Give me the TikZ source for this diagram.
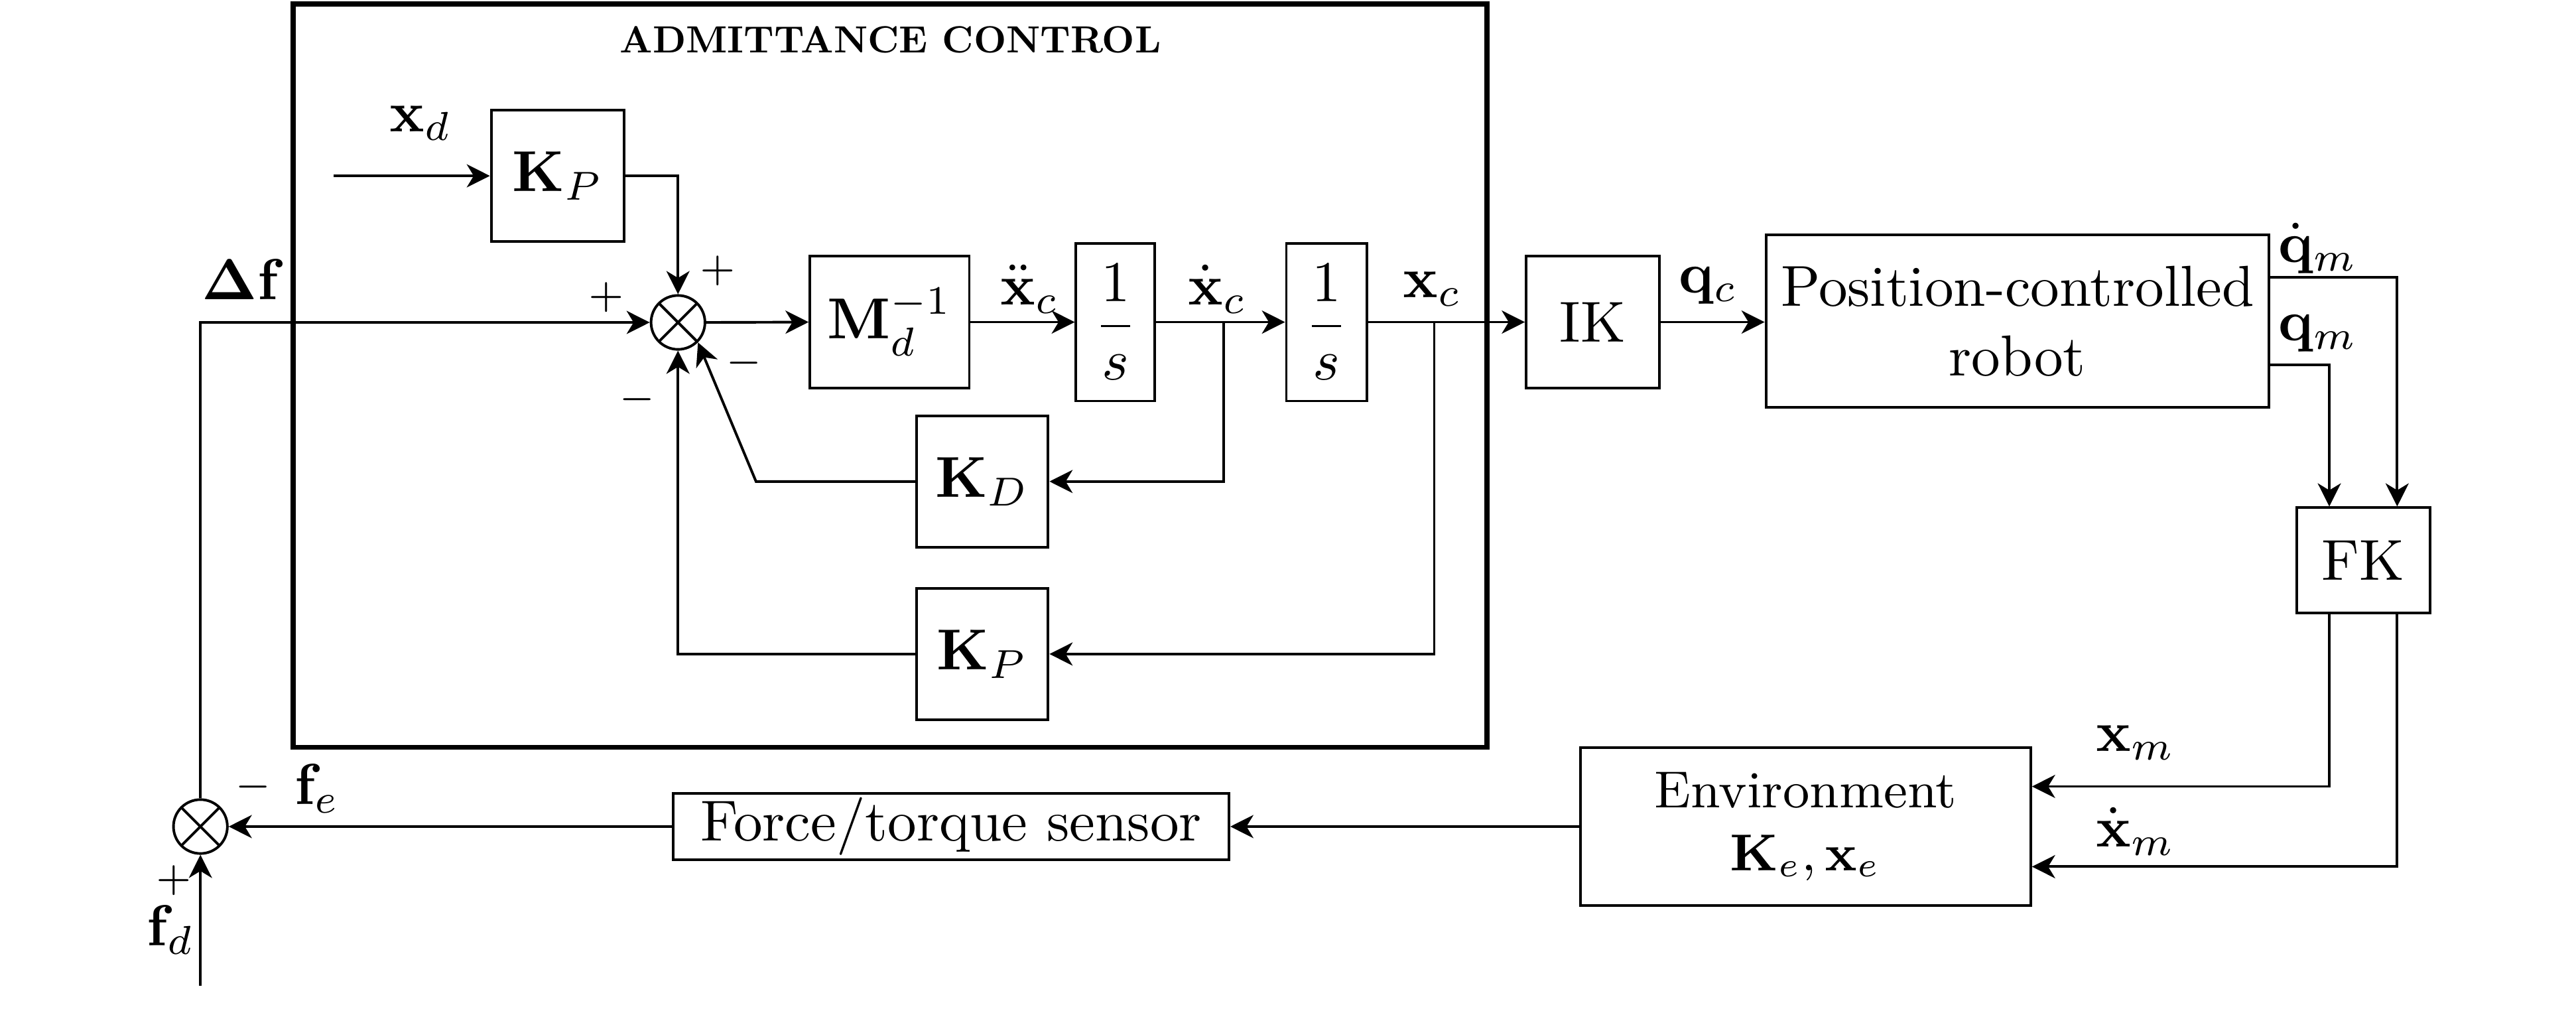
\documentclass[tikz,border=0pt]{standalone}
\usepackage{amsmath}
\usetikzlibrary{arrows.meta,calc}

\begin{document}
\begin{tikzpicture}[x=0.01cm,y=-0.01cm,>={Stealth[length=4pt,width=4pt,inset=1.2pt]},line width=0.45pt,
                    blk/.style 2 args={draw,inner sep=0pt,minimum width=#1,minimum height=#2},
                    sum/.style={circle,draw,inner sep=0pt,minimum size=0.328cm,
                      path picture={\draw (path picture bounding box.north west) -- (path picture bounding box.south east)
                                          (path picture bounding box.north east) -- (path picture bounding box.south west);}},
                    sgn/.style={font=\scriptsize}]
  \useasboundingbox (0,0) rectangle (1568,614);
  % admittance control frame
  \node[draw,line width=0.9pt,minimum width=7.265cm,minimum height=4.521cm] (adm) at (541.75,228.55) {};
  \node (title) at (542,24) {\scalebox{0.655}{\bfseries ADMITTANCE CONTROL}};
  % blocks
  \node[blk={0.81cm}{0.80cm}] (KPa) at (339.5,107) {$\mathbf{K}_P$};
  \node[sum] (s1) at (412.7,196.2) {};
  \node[blk={0.97cm}{0.80cm}] (Minv) at (541.5,196) {$\mathbf{M}_d^{-1}$};
  \node[blk={0.48cm}{0.96cm}] (int1) at (679,196) {$\dfrac{1}{s}$};
  \node[blk={0.49cm}{0.96cm}] (int2) at (807.5,196) {$\dfrac{1}{s}$};
  \node[blk={0.80cm}{0.80cm}] (KD) at (598,293) {$\mathbf{K}_D$};
  \node[blk={0.80cm}{0.80cm}] (KPb) at (598,398) {$\mathbf{K}_P$};
  \node[blk={0.81cm}{0.80cm}] (IK) at (969.5,196) {IK};
  \node[blk={3.06cm}{1.05cm},align=center] (robot) at (1228,195.5) {Position-controlled\\robot};
  \node[blk={0.81cm}{0.64cm}] (FK) at (1438.5,341) {FK};
  \node[blk={2.74cm}{0.96cm},align=center,font=\small] (env) at (1099,503) {Environment\\$\mathbf{K}_e,\mathbf{x}_e$};
  \node[blk={3.38cm}{0.40cm}] (ft) at (579,503) {Force/torque sensor};
  \node[sum] (s2) at (122,503) {};
  % branch points and free ends
  \coordinate (xdin) at (203,107);
  \coordinate (bv) at (745,196);
  \coordinate (bp) at (873,196);
  \coordinate (fdin) at (122,600);
  % forward path
  \draw[->] (xdin) -- (KPa);
  \draw[->] (KPa.east) -| (s1.north);
  \draw[->] (s2.north) |- (s1.west);
  \draw[->] (s1.east) -- (Minv.west);
  \draw[->] (Minv) -- (int1);
  \draw[->] (int1) -- (int2);
  \draw[->] (int2) -- (IK);
  \draw[->] (IK.east) -- (IK.east -| robot.west);
  % inner feedback
  \draw[->] (bv) |- (KD.east);
  \draw[->] (bp) |- (KPb.east);
  \draw[->] (KD.west) -- ++(-97,0) -- (s1.south east);
  \draw[->] (KPb.west) -| (s1.south);
  % robot, kinematics, environment
  \draw[->] ($(robot.north east)!0.25!(robot.south east)$) -| ($(FK.north west)!0.75!(FK.north east)$);
  \draw[->] ($(robot.north east)!0.75!(robot.south east)$) -| ($(FK.north west)!0.25!(FK.north east)$);
  \draw[->] ($(FK.south west)!0.25!(FK.south east)$) |- ($(env.north east)!0.25!(env.south east)$);
  \draw[->] ($(FK.south west)!0.75!(FK.south east)$) |- ($(env.north east)!0.75!(env.south east)$);
  \draw[->] (env.west) -- (ft.east);
  \draw[->] (ft.west) -- (s2.east);
  \draw[->] (fdin) -- (s2.south);
  % signal labels
  \node (lxd) at (256,75) {$\mathbf{x}_d$};
  \node (ldf) at (148,170) {$\mathbf{\Delta f}$};
  \node (lxcdd) at (627,176) {$\ddot{\mathbf{x}}_c$};
  \node (lxcd) at (741,176) {$\dot{\mathbf{x}}_c$};
  \node (lxc) at (872,176) {$\mathbf{x}_c$};
  \node (lqc) at (1040,174) {$\mathbf{q}_c$};
  \node (lqmd) at (1411,151) {$\dot{\mathbf{q}}_m$};
  \node (lqm) at (1411,203) {$\mathbf{q}_m$};
  \node (lxm) at (1300,452) {$\mathbf{x}_m$};
  \node (lxmd) at (1300,506) {$\dot{\mathbf{x}}_m$};
  \node (lfe) at (193,480) {$\mathbf{f}_e$};
  \node (lfd) at (104,566) {$\mathbf{f}_d$};
  % signs
  \node[sgn] at (369,181) {$+$};
  \node[sgn] at (437,165) {$+$};
  \node[sgn] at (453,221) {$-$};
  \node[sgn] at (388,243) {$-$};
  \node[sgn] at (154,479) {$-$};
  \node[sgn] at (106,536) {$+$};
\end{tikzpicture}
\end{document}
